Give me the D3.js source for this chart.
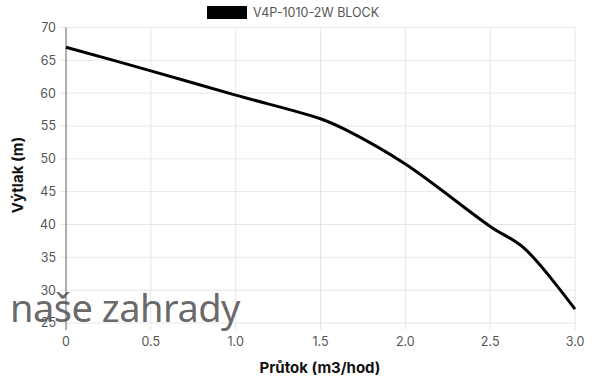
<!DOCTYPE html>
<html><head><meta charset="utf-8">
<script src="https://cdn.jsdelivr.net/npm/d3@7"></script>
<style>body{margin:0;background:#fff}svg{display:block}</style>
</head><body><svg id="c" width="600" height="381"></svg>
<script>
const seriesName = "V4P-1010-2W BLOCK";
const flow = [0, 0.5, 1.0, 1.5, 1.65, 2.0, 2.5, 2.7, 3.0];
const head = [67, 63.4, 59.7, 56.1, 54.4, 49.2, 39.7, 36.4, 27.1];
const xTicks = [0, 0.5, 1.0, 1.5, 2.0, 2.5, 3.0];
const xTickLabels = ["0", "0.5", "1.0", "1.5", "2.0", "2.5", "3.0"];
const yTicks = [25, 30, 35, 40, 45, 50, 55, 60, 65, 70];
const xTitle = "Průtok (m3/hod)";
const yTitle = "Výtlak (m)";
const watermark = "naše zahrady";

const svg = d3.select("#c");
const font = "Inter, 'Open Sans', sans-serif";
const x = d3.scaleLinear().domain([0, 3]).range([66, 575]);
const y = d3.scaleLinear().domain([25, 70]).range([323, 27.5]);

// grid
svg.append("g").selectAll("line").data(yTicks).join("line")
  .attr("x1", 60).attr("x2", 575).attr("y1", d => y(d)).attr("y2", d => y(d))
  .attr("stroke", "#e6e6e6").attr("stroke-width", 1);
svg.append("g").selectAll("line").data(xTicks).join("line")
  .attr("x1", d => x(d)).attr("x2", d => x(d)).attr("y1", 27.5).attr("y2", 330)
  .attr("stroke", "#e6e6e6").attr("stroke-width", 1);
// y axis line
svg.append("line").attr("x1", x(0)).attr("x2", x(0)).attr("y1", 27.5).attr("y2", 330)
  .attr("stroke", "#8a8a8a").attr("stroke-width", 1.3);

// tick labels
svg.append("g").selectAll("text").data(yTicks).join("text")
  .attr("x", 56).attr("y", d => y(d)).attr("dy", "0.35em").attr("text-anchor", "end")
  .attr("font-family", font).attr("font-size", 12.5).attr("fill", "#555")
  .text(d => d);
svg.append("g").selectAll("text").data(xTicks).join("text")
  .attr("x", d => x(d)).attr("y", 346).attr("text-anchor", "middle")
  .attr("font-family", font).attr("font-size", 12.5).attr("fill", "#555")
  .text((d, i) => xTickLabels[i]);

// titles
svg.append("text").attr("x", 320).attr("y", 373).attr("text-anchor", "middle")
  .attr("font-family", font).attr("font-weight", 700).attr("font-size", 15).attr("fill", "#111")
  .text(xTitle);
svg.append("text").attr("transform", "translate(23,175) rotate(-90)").attr("text-anchor", "middle")
  .attr("font-family", font).attr("font-weight", 700).attr("font-size", 15).attr("fill", "#111")
  .text(yTitle);

// line
const pts = flow.map((f, i) => [f, head[i]]);
svg.append("path").datum(pts)
  .attr("d", d3.line().x(d => x(d[0])).y(d => y(d[1])).curve(d3.curveCatmullRom.alpha(0.5)))
  .attr("fill", "none").attr("stroke", "#000").attr("stroke-width", 3);

// legend
svg.append("rect").attr("x", 207).attr("y", 6).attr("width", 40).attr("height", 13).attr("fill", "#000");
svg.append("text").attr("x", 253).attr("y", 17).attr("font-family", font).attr("font-size", 12.5)
  .attr("fill", "#555").text(seriesName);

// watermark
svg.append("text").attr("x", 10).attr("y", 322).attr("font-family", "'Noto Sans', sans-serif")
  .attr("font-size", 38).attr("fill", "#555").attr("fill-opacity", 0.9).attr("letter-spacing", -0.5)
  .text(watermark);
</script></body></html>
